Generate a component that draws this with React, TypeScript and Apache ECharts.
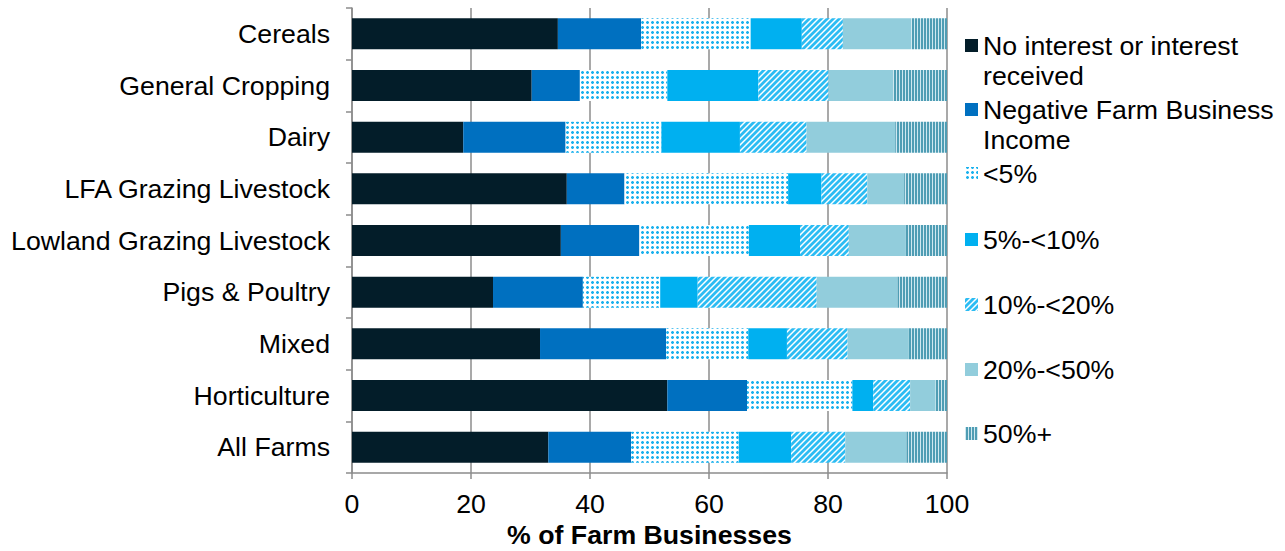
import React, { useEffect, useRef } from "react";
import * as echarts from "echarts";

const categories = [
  "Cereals",
  "General Cropping",
  "Dairy",
  "LFA Grazing Livestock",
  "Lowland Grazing Livestock",
  "Pigs & Poultry",
  "Mixed",
  "Horticulture",
  "All Farms",
];

const seriesNames = [
  "No interest or interest received",
  "Negative Farm Business Income",
  "<5%",
  "5%-<10%",
  "10%-<20%",
  "20%-<50%",
  "50%+",
];

const legendLabels = [
  "No interest or interest\nreceived",
  "Negative Farm Business\nIncome",
  "<5%",
  "5%-<10%",
  "10%-<20%",
  "20%-<50%",
  "50%+",
];

const noInterest = [34.6, 30.2, 18.7, 36.1, 35.1, 23.7, 31.6, 53.0, 33.0];
const negativeFBI = [14.0, 8.1, 17.2, 9.7, 13.2, 15.1, 21.2, 13.4, 13.9];
const lt5 = [18.4, 14.7, 16.1, 27.5, 18.4, 13.0, 13.8, 17.7, 18.1];
const p5to10 = [8.6, 15.3, 13.2, 5.6, 8.6, 6.3, 6.5, 3.5, 8.8];
const p10to20 = [6.9, 11.8, 11.2, 7.7, 8.2, 20.0, 10.2, 6.2, 9.1];
const p20to50 = [11.5, 10.9, 14.9, 6.2, 9.6, 13.6, 10.3, 4.3, 10.3];
const p50plus = [6.0, 9.0, 8.7, 7.2, 6.9, 8.3, 6.4, 1.9, 6.8];

const xTicks = [0, 20, 40, 60, 80, 100];

const FONT = '"Liberation Sans", Arial, sans-serif';
const FS = 26.7;

function makePattern(w: number, h: number, draw: (ctx: CanvasRenderingContext2D) => void) {
  const c = document.createElement("canvas");
  c.width = w;
  c.height = h;
  const ctx = c.getContext("2d")!;
  draw(ctx);
  return { image: c, repeat: "repeat", imageWidth: w, imageHeight: h } as any;
}

function buildFills() {
  const dots = makePattern(5, 5, (ctx) => {
    ctx.fillStyle = "#ffffff";
    ctx.fillRect(0, 0, 5, 5);
    ctx.fillStyle = "#9cdbf6";
    ctx.fillRect(1, 1, 3, 3);
    ctx.fillStyle = "#1ab2ee";
    ctx.fillRect(2, 1, 1, 3);
    ctx.fillRect(1, 2, 3, 1);
  });
  const hatch = makePattern(6, 6, (ctx) => {
    ctx.fillStyle = "#ffffff";
    ctx.fillRect(0, 0, 6, 6);
    ctx.strokeStyle = "#2cbcf3";
    ctx.lineWidth = 2.8;
    ctx.beginPath();
    ctx.moveTo(-1, 7);
    ctx.lineTo(7, -1);
    ctx.moveTo(-4, 4);
    ctx.lineTo(4, -4);
    ctx.moveTo(2, 10);
    ctx.lineTo(10, 2);
    ctx.stroke();
  });
  const stripes = makePattern(3, 4, (ctx) => {
    ctx.fillStyle = "#cfe8f0";
    ctx.fillRect(0, 0, 3, 4);
    ctx.fillStyle = "#4f9db4";
    ctx.fillRect(0, 0, 2, 4);
  });
  return ["#031d29", "#0070c0", dots, "#00b0f0", hatch, "#92cddc", stripes];
}

export default function App() {
  const ref = useRef<HTMLDivElement>(null);

  useEffect(() => {
    if (!ref.current) return;
    const chart = echarts.init(ref.current, undefined, { renderer: "svg" });
    const fills = buildFills();
    const dataSets = [noInterest, negativeFBI, lt5, p5to10, p10to20, p20to50, p50plus];

    const legendY = [46, 110, 174, 240, 305, 370, 434];
    const legendGraphics: any[] = [];
    legendLabels.forEach((label, i) => {
      const y = legendY[i];
      legendGraphics.push({
        type: "rect",
        shape: { x: 965, y: y - 7, width: 13, height: 13 },
        style: { fill: fills[i] },
      });
      legendGraphics.push({
        type: "text",
        x: 983,
        y: y - 15,
        style: {
          text: label,
          fill: "#000",
          fontSize: FS,
          fontFamily: FONT,
          lineHeight: 30,
          verticalAlign: "top",
          align: "left",
        },
      });
    });

    chart.setOption({
      animation: false,
      textStyle: { fontFamily: FONT },
      grid: {
        left: 352,
        right: 338,
        top: 8,
        bottom: 78,
        containLabel: false,
        outerBoundsMode: "none",
      },
      xAxis: {
        type: "value",
        min: xTicks[0],
        max: xTicks[xTicks.length - 1],
        interval: 20,
        name: "% of Farm Businesses",
        nameLocation: "middle",
        nameGap: 50,
        nameMoveOverlap: false,
        nameTextStyle: {
          fontSize: FS,
          fontWeight: "bold",
          color: "#000",
          fontFamily: FONT,
          lineHeight: 24,
        },
        axisLine: { show: true, lineStyle: { color: "#8c8c8c", width: 1.5 } },
        axisTick: { show: true, length: 6, lineStyle: { color: "#8c8c8c", width: 1.5 } },
        axisLabel: { fontSize: FS, color: "#000", margin: 18, lineHeight: 26, fontFamily: FONT },
        splitLine: { show: true, lineStyle: { color: "#8c8c8c", width: 1.5 } },
      },
      yAxis: {
        type: "category",
        data: categories,
        inverse: true,
        axisLine: { show: true, lineStyle: { color: "#8c8c8c", width: 1.5 } },
        axisTick: { show: true, length: 6, lineStyle: { color: "#8c8c8c", width: 1.5 } },
        axisLabel: { fontSize: FS, color: "#000", margin: 22, fontFamily: FONT },
        splitLine: { show: false },
      },
      series: seriesNames.map((name, i) => ({
        name,
        type: "bar",
        stack: "total",
        barWidth: "60%",
        data: dataSets[i],
        itemStyle: { color: fills[i] },
      })),
      graphic: legendGraphics,
    });

    return () => chart.dispose();
  }, []);

  return (
    <div
      ref={ref}
      style={{ position: "fixed", left: 0, top: 0, width: 1285, height: 551, background: "#fff" }}
    />
  );
}
